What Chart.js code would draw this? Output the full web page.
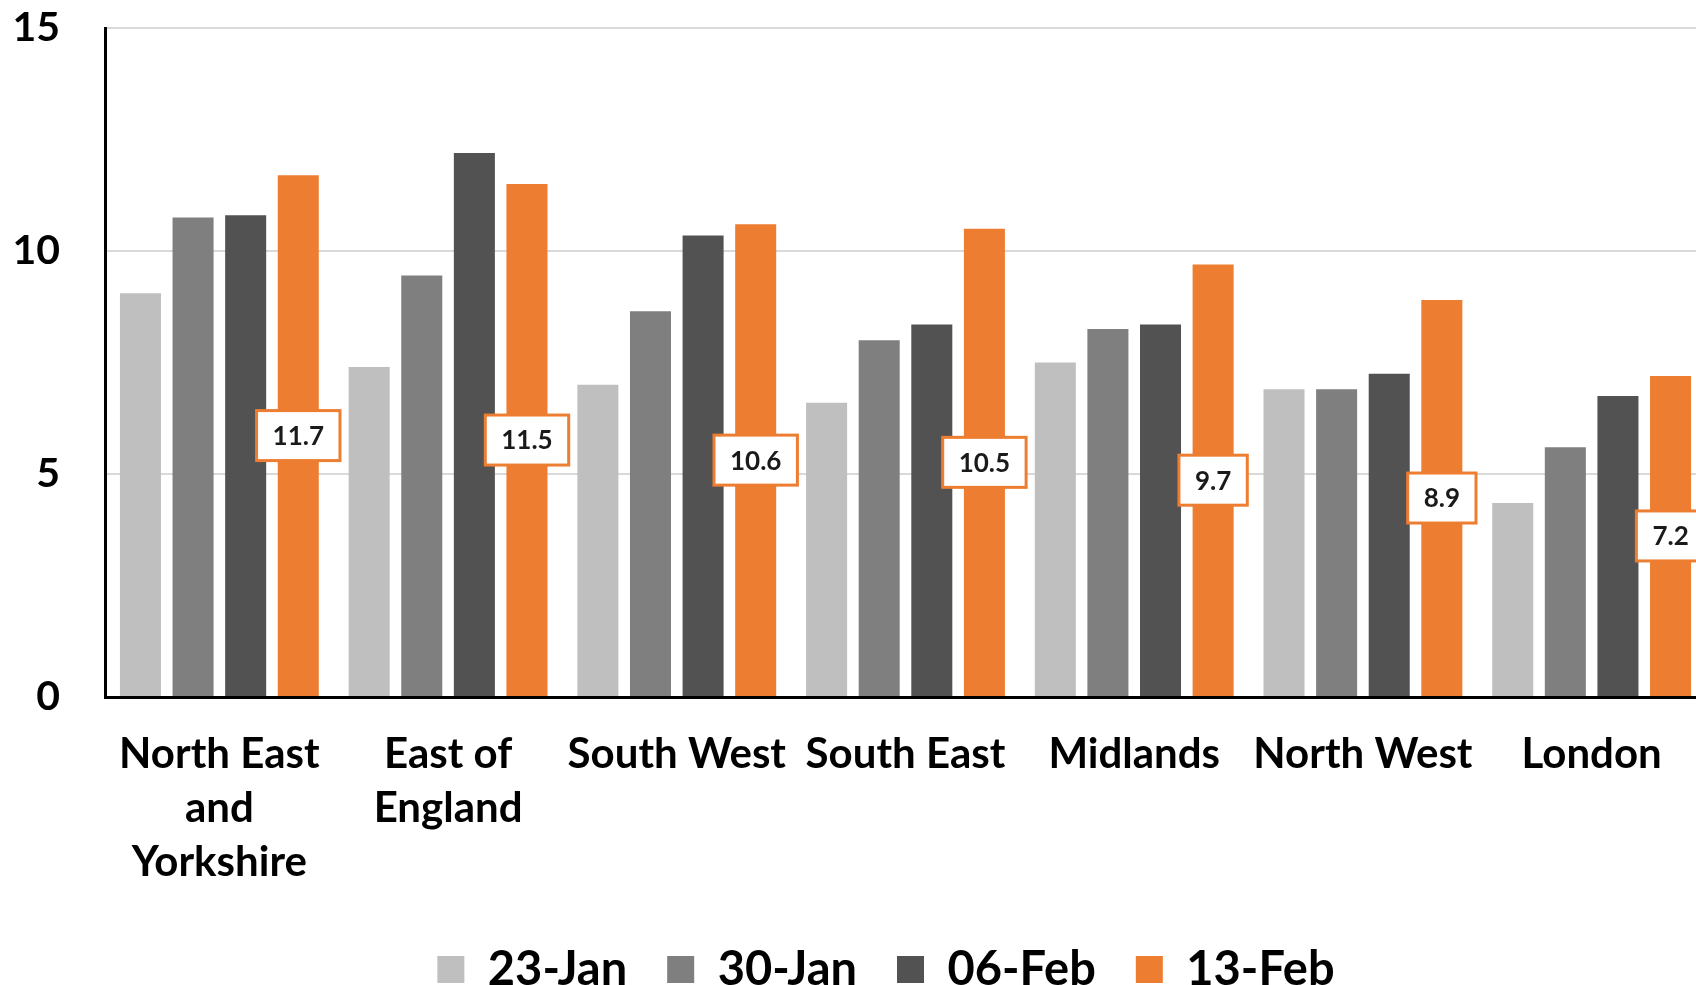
<!DOCTYPE html>
<html>
<head>
<meta charset="utf-8">
<script src="https://cdn.jsdelivr.net/npm/chart.js@4"></script>
<style>
html, body { margin: 0; padding: 0; overflow: hidden; background: #fff; }
#wrap { position: absolute; left: 0; top: 0; width: 1754px; height: 985px; }
</style>
</head>
<body>
<div id="wrap"><canvas id="c" width="1754" height="985"></canvas></div>
<script>
const categories = [["North East", "and", "Yorkshire"], ["East of", "England"], "South West", "South East", "Midlands", "North West", "London"];
const seriesNames = ["23-Jan", "30-Jan", "06-Feb", "13-Feb"];
const jan23 = [9.05, 7.4, 7.0, 6.6, 7.5, 6.9, 4.35];
const jan30 = [10.75, 9.45, 8.65, 8.0, 8.25, 6.9, 5.6];
const feb06 = [10.8, 12.2, 10.35, 8.35, 8.35, 7.25, 6.75];
const feb13 = [11.7, 11.5, 10.6, 10.5, 9.7, 8.9, 7.2];
const yTicks = [0, 5, 10, 15];
const colours = ["#BFBFBF", "#7F7F7F", "#525252", "#ED7D31"];

const FONT = "Lato, 'Open Sans', sans-serif";
const PLOT_BOTTOM = 697;

const labelBoxes = {
  id: 'labelBoxes',
  afterDatasetsDraw(chart) {
    const ctx = chart.ctx;
    const dsIndex = 3;
    const meta = chart.getDatasetMeta(dsIndex);
    const data = chart.data.datasets[dsIndex].data;
    ctx.save();
    ctx.font = "bold 26px " + FONT;
    ctx.textAlign = 'center';
    ctx.textBaseline = 'middle';
    meta.data.forEach((bar, i) => {
      const txt = data[i].toFixed(1);
      const cx = bar.x;
      const cy = (bar.y + bar.base) / 2;
      const tw = ctx.measureText(txt).width;
      const w = tw + 32, h = 50;
      ctx.fillStyle = '#ffffff';
      ctx.fillRect(cx - w / 2, cy - h / 2, w, h);
      ctx.strokeStyle = '#ED7D31';
      ctx.lineWidth = 3;
      ctx.strokeRect(cx - w / 2, cy - h / 2, w, h);
      ctx.fillStyle = '#1a1a1a';
      ctx.fillText(txt, cx, cy + 1);
    });
    ctx.restore();
  }
};

const placeBoxes = {
  id: 'placeBoxes',
  afterLayout(chart) {
    const x = chart.scales.x;
    x.bottom = chart.height;
    const lg = chart.legend;
    if (lg) {
      const d = 1003 - lg.bottom;
      lg.top += d; lg.bottom += d;
      lg.left += 29; lg.right += 29;
    }
  }
};

const seriesData = [jan23, jan30, feb06, feb13];

new Chart(document.getElementById('c'), {
  type: 'bar',
  data: {
    labels: categories,
    datasets: seriesNames.map((name, k) => ({
      label: name,
      data: seriesData[k],
      backgroundColor: colours[k],
      borderWidth: 0,
      categoryPercentage: 0.92,
      barPercentage: 0.78
    }))
  },
  options: {
    responsive: false,
    devicePixelRatio: 1,
    animation: false,
    layout: { padding: { left: 8, right: 48, top: 28, bottom: 0 } },
    plugins: {
      tooltip: { enabled: false },
      legend: {
        position: 'bottom',
        labels: {
          boxWidth: 27,
          boxHeight: 27,
          padding: 40,
          color: '#000',
          font: { family: FONT, size: 47, weight: 'bold' }
        }
      }
    },
    scales: {
      x: {
        grid: { display: false, drawTicks: false },
        border: { display: true, color: '#000', width: 3 },
        ticks: {
          color: '#000',
          padding: 30,
          maxRotation: 0,
          autoSkip: false,
          font: { family: FONT, size: 42, weight: 'bold', lineHeight: 1.29 }
        },
        afterFit(scale) {
          const ch = scale.chart;
          const lh = ch.legend ? ch.legend.height : 0;
          scale.height = ch.height - lh - PLOT_BOTTOM;
          scale.paddingLeft = 0;
          scale.paddingRight = 0;
        }
      },
      y: {
        min: 0,
        max: 15,
        afterBuildTicks(scale) { scale.ticks = yTicks.map(v => ({ value: v })); },
        grid: { color: '#D9D9D9', lineWidth: 2, drawTicks: false },
        border: { display: true, color: '#000', width: 3 },
        ticks: {
          color: '#000',
          padding: 45,
          font: { family: FONT, size: 41, weight: 'bold' }
        },
        afterFit(scale) {
          scale.width = 97;
          scale.paddingTop = 0;
          scale.paddingBottom = 0;
        }
      }
    }
  },
  plugins: [labelBoxes, placeBoxes]
});
</script>
</body>
</html>
